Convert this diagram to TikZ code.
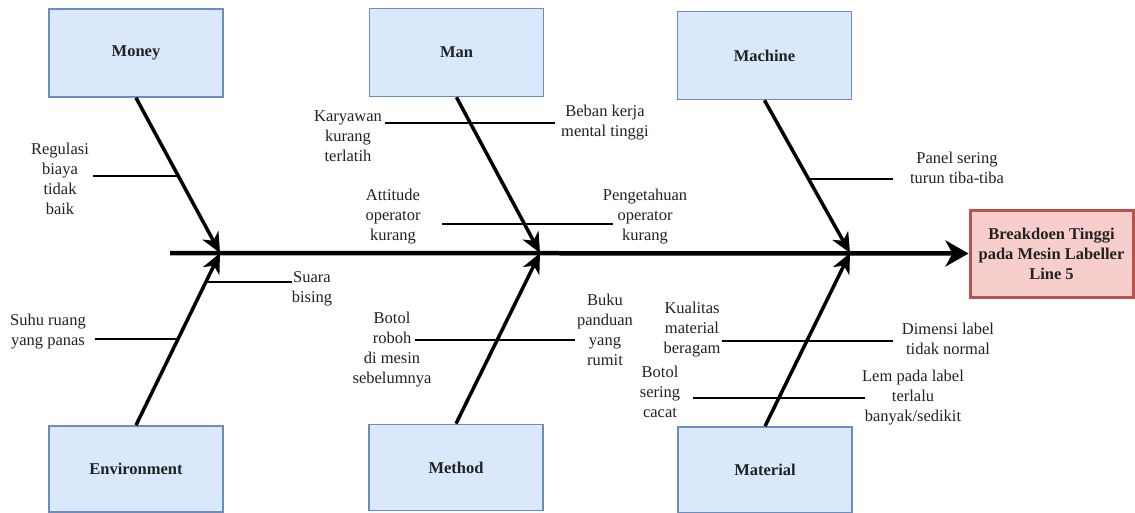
\documentclass[tikz,border=0pt]{standalone}
\usepackage{fontspec}
\setmainfont{Liberation Serif}
\usetikzlibrary{arrows.meta}
\definecolor{boxfill}{HTML}{DAE8FC}
\definecolor{boxdraw}{HTML}{6C8EBF}
\definecolor{efffill}{HTML}{F8CECC}
\definecolor{effdraw}{HTML}{B85450}
\definecolor{txt}{HTML}{222222}
\tikzset{
  catbox/.style={draw=boxdraw, fill=boxfill, line width=1.6pt, minimum width=174pt, minimum height=88pt, inner sep=0pt, align=center, font=\fontsize{16.5}{20}\selectfont\bfseries, text=txt},
  effbox/.style={draw=effdraw, fill=efffill, line width=3pt, minimum width=163pt, minimum height=87pt, inner sep=0pt, align=center, font=\fontsize{16.5}{20}\selectfont\bfseries, text=txt},
  cause/.style={align=center, inner sep=0pt, font=\fontsize{16.5}{20}\selectfont, text=txt},
  bone/.style={line width=3.5pt, -{Stealth[length=20pt,width=18pt,inset=6pt]}},
  spine/.style={line width=4.5pt, -{Stealth[length=23pt,width=26pt,inset=7pt]}},
  rib/.style={line width=2.2pt}
}
\begin{document}
\begin{tikzpicture}[x=1pt,y=-1pt]
\useasboundingbox (0,0) rectangle (1135,512);
\fill[white] (0,0) rectangle (1135,512);
% category boxes
\node[catbox] (money) at (136,53) {Money};
\node[catbox] (man) at (456.5,52.5) {Man};
\node[catbox] (machine) at (764.5,55.5) {Machine};
\node[catbox, minimum height=86pt] (env) at (136,469) {Environment};
\node[catbox, minimum height=86pt] (method) at (456,467.5) {Method};
\node[catbox, minimum height=86pt] (material) at (765,470) {Material};
\node[effbox] (eff) at (1051.5,253.5) {Breakdoen Tinggi\\pada Mesin Labeller\\Line 5};
% spine
\coordinate (s0) at (170,253);
\coordinate (j1) at (220,253);
\coordinate (j2) at (540,253);
\coordinate (j3) at (850,253);
\draw[spine] (s0) -- (eff.west);
% bones
\draw[bone] (money.south) -- (j1);
\draw[bone] (env.north) -- (j1);
\draw[bone] (man.south) -- (j2);
\draw[bone] (method.north) -- (j2);
\draw[bone] (machine.south) -- (j3);
\draw[bone] (material.north) -- (j3);
% ribs
\coordinate (r1a) at (93,176);   \coordinate (r1b) at (178,176);
\coordinate (r2a) at (385,123);  \coordinate (r2b) at (555,123);
\coordinate (r3a) at (442,224);  \coordinate (r3b) at (613,224);
\coordinate (r4a) at (809,179);  \coordinate (r4b) at (893,179);
\coordinate (r5a) at (206,282);  \coordinate (r5b) at (292,282);
\coordinate (r6a) at (95,339);   \coordinate (r6b) at (178,339);
\coordinate (r7a) at (415,340);  \coordinate (r7b) at (575,340);
\coordinate (r8a) at (722,341);  \coordinate (r8b) at (893,341);
\coordinate (r9a) at (693,398);  \coordinate (r9b) at (865,398);
\draw[rib] (r1a) -- (r1b);
\draw[rib] (r2a) -- (r2b);
\draw[rib] (r3a) -- (r3b);
\draw[rib] (r4a) -- (r4b);
\draw[rib] (r5a) -- (r5b);
\draw[rib] (r6a) -- (r6b);
\draw[rib] (r7a) -- (r7b);
\draw[rib] (r8a) -- (r8b);
\draw[rib] (r9a) -- (r9b);
% cause labels
\node[cause] (c1) at (60,178.5) {Regulasi\\biaya\\tidak\\baik};
\node[cause] (c2) at (348,136) {Karyawan\\kurang\\terlatih};
\node[cause] (c3) at (605,123) {Beban kerja\\mental tinggi};
\node[cause] (c4) at (393,217) {Attitude\\operator\\kurang};
\node[cause] (c5) at (645,217) {Pengetahuan\\operator\\kurang};
\node[cause] (c6) at (957,168) {Panel sering\\turun tiba-tiba};
\node[cause] (c7) at (312,289) {Suara\\bising};
\node[cause] (c8) at (48,332) {Suhu ruang\\yang panas};
\node[cause] (c9) at (392,350) {Botol\\roboh\\di mesin\\sebelumnya};
\node[cause] (c10) at (605,330) {Buku\\panduan\\yang\\rumit};
\node[cause] (c11) at (692,330) {Kualitas\\material\\beragam};
\node[cause] (c12) at (948,339) {Dimensi label\\tidak normal};
\node[cause] (c13) at (660,392) {Botol\\sering\\cacat};
\node[cause] (c14) at (913,398) {Lem pada label\\terlalu\\banyak/sedikit};
\end{tikzpicture}
\end{document}
